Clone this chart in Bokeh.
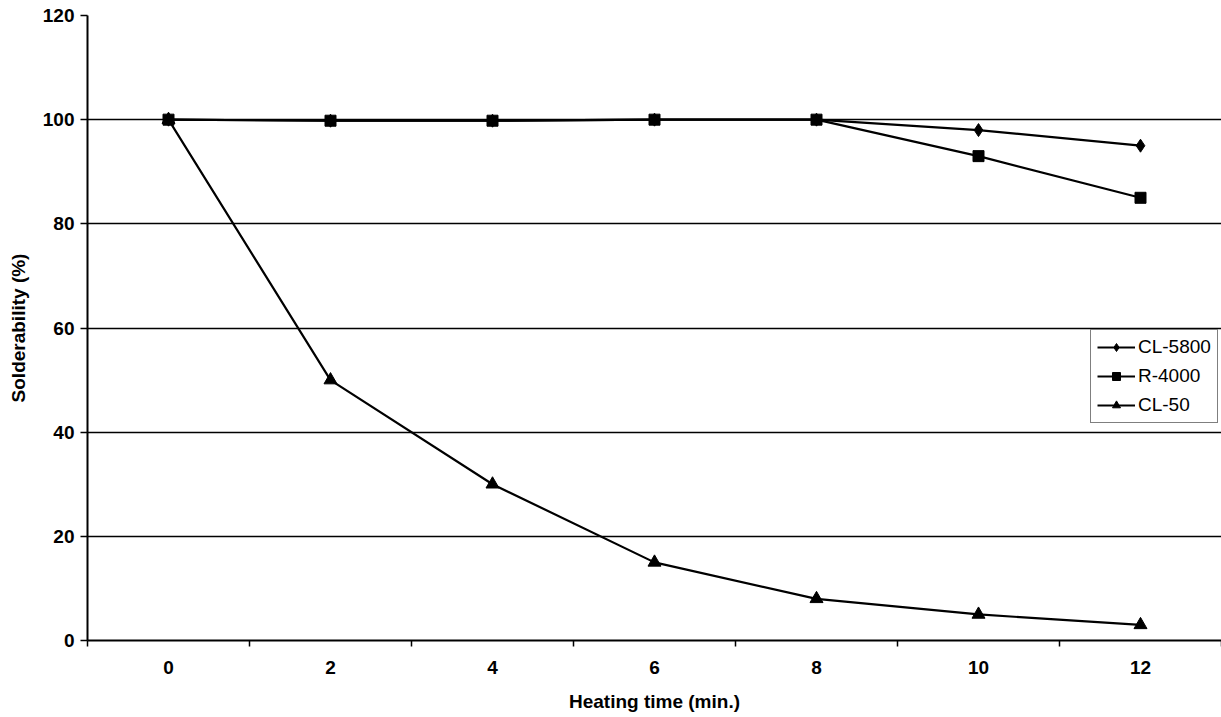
from bokeh.plotting import figure
from bokeh.models import FixedTicker, Legend, LegendItem, Range1d
from bokeh.embed import file_html
from bokeh.resources import INLINE

times = [0, 2, 4, 6, 8, 10, 12]
cl5800 = [100, 99.8, 99.8, 100, 100, 98, 95]
r4000 = [100, 99.8, 99.8, 100, 100, 93, 85]
cl50 = [100, 50, 30, 15, 8, 5, 3]
y_ticks = [0, 20, 40, 60, 80, 100, 120]
grid_ticks = [20, 40, 60, 80, 100]

FONT = "Liberation Sans"

p = figure(width=1221, height=717, output_backend="svg", toolbar_location=None,
           x_range=Range1d(times[0] - 1, times[-1] + 1), y_range=Range1d(0, 120),
           min_border_left=87, min_border_right=0, min_border_top=15, min_border_bottom=77)
p.outline_line_color = None
p.background_fill_color = "white"
p.border_fill_color = "white"

# x axis: labels at categories, ticks at category boundaries
boundaries = [t - 1 for t in times] + [times[-1] + 1]
p.xaxis.ticker = FixedTicker(ticks=times, minor_ticks=boundaries)
p.xaxis.major_tick_out = 0
p.xaxis.major_tick_in = 0
p.xaxis.minor_tick_out = 6
p.xaxis.minor_tick_in = 0
p.xaxis.minor_tick_line_color = "black"
p.xaxis.minor_tick_line_width = 1.5
p.xaxis.axis_line_color = "black"
p.xaxis.axis_line_width = 2
p.xaxis.major_label_text_font = FONT
p.xaxis.major_label_text_font_style = "bold"
p.xaxis.major_label_text_font_size = "19px"
p.xaxis.major_label_text_color = "black"
p.xaxis.major_label_standoff = 14
p.xaxis.axis_label = "Heating time (min.)"
p.xaxis.axis_label_text_font = FONT
p.xaxis.axis_label_text_font_style = "bold"
p.xaxis.axis_label_text_font_size = "19px"
p.xaxis.axis_label_text_color = "black"
p.xaxis.axis_label_standoff = 14

p.yaxis.ticker = FixedTicker(ticks=y_ticks)
p.yaxis.major_tick_out = 7
p.yaxis.major_tick_in = 0
p.yaxis.minor_tick_out = 0
p.yaxis.major_tick_line_color = "black"
p.yaxis.major_tick_line_width = 1.5
p.yaxis.axis_line_color = "black"
p.yaxis.axis_line_width = 2
p.yaxis.major_label_text_font = FONT
p.yaxis.major_label_text_font_style = "bold"
p.yaxis.major_label_text_font_size = "19px"
p.yaxis.major_label_text_color = "black"
p.yaxis.major_label_standoff = 6
p.yaxis.axis_label = "Solderability (%)"
p.yaxis.axis_label_text_font = FONT
p.yaxis.axis_label_text_font_style = "bold"
p.yaxis.axis_label_text_font_size = "19px"
p.yaxis.axis_label_text_color = "black"
p.yaxis.axis_label_standoff = 11

p.xgrid.grid_line_color = None
p.ygrid.ticker = FixedTicker(ticks=grid_ticks)
p.ygrid.grid_line_color = "black"
p.ygrid.grid_line_width = 1.5

# draw order: CL-50 first, then CL-5800, then R-4000 on top
l50 = p.line(times, cl50, line_color="black", line_width=2.2)
m50 = p.scatter(times, cl50, marker="triangle", size=13, fill_color="black", line_color="black")
l58 = p.line(times, cl5800, line_color="black", line_width=2.2)
m58 = p.scatter(times, cl5800, marker="diamond", size=13, fill_color="black", line_color="black")
l40 = p.line(times, r4000, line_color="black", line_width=2.2)
m40 = p.scatter(times, r4000, marker="square", size=11, fill_color="black", line_color="black")

legend = Legend(items=[
    LegendItem(label="CL-5800", renderers=[l58, m58]),
    LegendItem(label="R-4000", renderers=[l40, m40]),
    LegendItem(label="CL-50", renderers=[l50, m50]),
], location=(1003, 217))
legend.label_text_font = FONT
legend.label_text_font_size = "19px"
legend.label_text_color = "black"
legend.border_line_color = "black"
legend.border_line_width = 1.5
legend.background_fill_color = "white"
legend.background_fill_alpha = 1
legend.glyph_width = 38
legend.glyph_height = 20
legend.label_height = 20
legend.label_standoff = 3
legend.spacing = 7
legend.padding = 6
legend.margin = 0
p.add_layout(legend, "center")

open("out.html", "w").write(file_html(p, INLINE))
